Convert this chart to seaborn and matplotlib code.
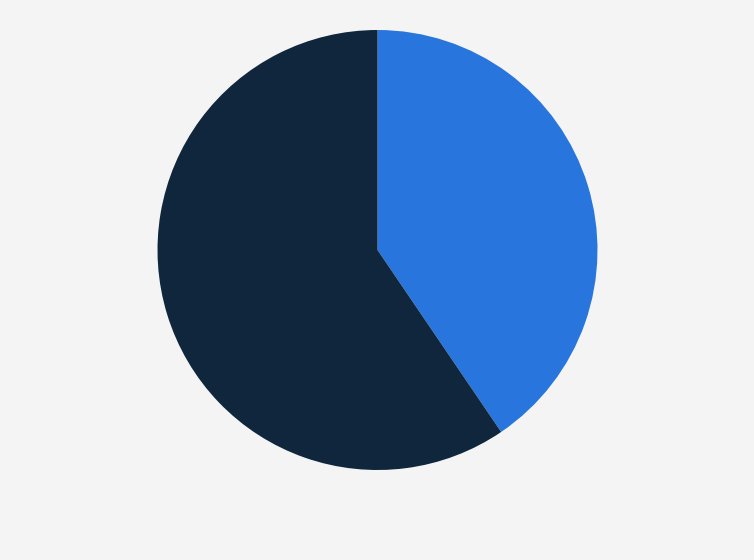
import matplotlib
matplotlib.use('Agg')
import matplotlib.pyplot as plt
import seaborn as sns

labels = ['Share A', 'Share B']
shares = [40.5, 59.5]
colors = ['#2876dd', '#0f263d']

sns.set_theme(style='white')
palette = sns.color_palette(colors)

fig = plt.figure(figsize=(7.54, 5.6), dpi=100)
fig.patch.set_facecolor('#f4f4f4')

# circle: centre ~(377, 250) px, radius ~220 px
ax = fig.add_axes([157.5 / 754, 90 / 560, 440 / 754, 440 / 560])
ax.set_facecolor('#f4f4f4')
ax.pie(shares, colors=palette, startangle=90, counterclock=False,
       radius=1, wedgeprops={'linewidth': 0})
ax.set_xlim(-1, 1)
ax.set_ylim(-1, 1)
ax.set_aspect('equal')
ax.axis('off')

plt.savefig('out.png', dpi=100, facecolor=fig.get_facecolor())
